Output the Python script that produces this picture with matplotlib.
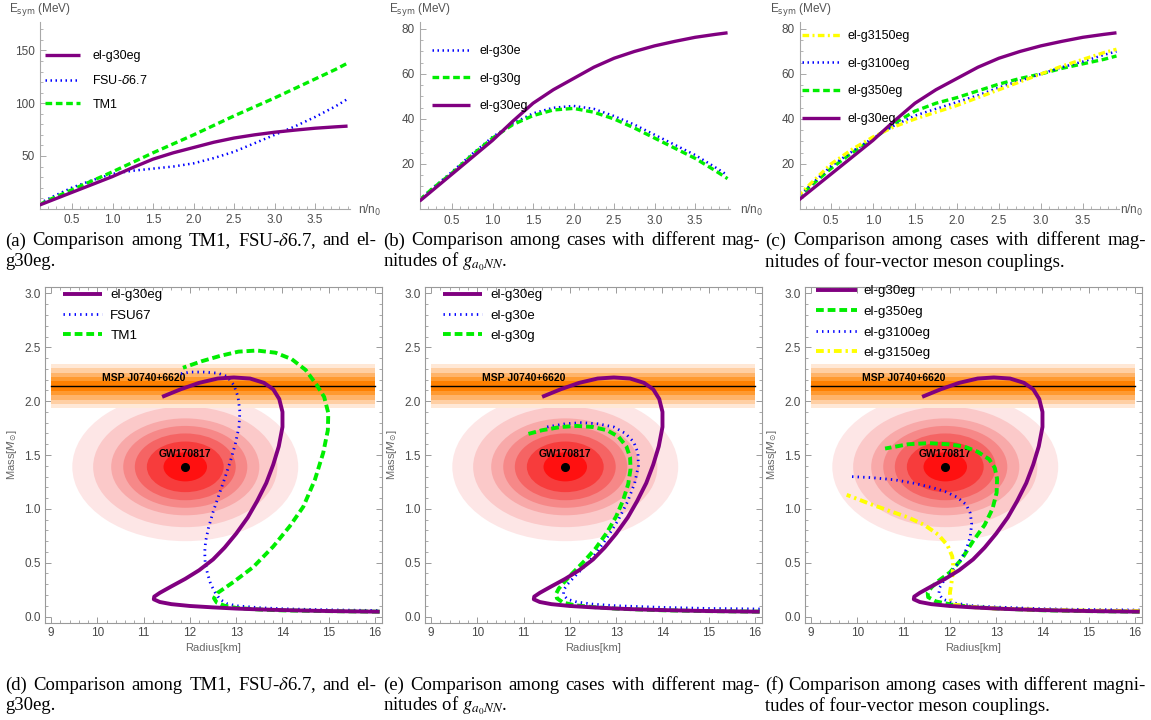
import numpy as np
import matplotlib
matplotlib.use("Agg")
import matplotlib.pyplot as plt
from matplotlib.patches import Ellipse
from matplotlib.ticker import MultipleLocator, FormatStrFormatter

plt.rcParams['font.family'] = ['Liberation Sans', 'DejaVu Sans']

# ---------------- data: symmetry energy (top row) ----------------
n_grid = [0.1, 0.25, 0.5, 0.75, 1.0, 1.25, 1.5, 1.75, 2.0, 2.25, 2.5, 2.75, 3.0, 3.25, 3.5, 3.75, 3.9]

esym_g30eg = [3.5, 8, 15.5, 23, 30.5, 39, 47, 53, 58, 63, 67, 70, 72.5, 74.5, 76.3, 77.6, 78.3]
esym_tm1 = [4, 9.5, 18, 26.5, 35, 44, 53, 61.5, 70, 79, 88, 96.5, 105, 114, 123, 132, 138]
esym_fsu = [5, 11, 20, 27, 33, 36, 38, 40, 43, 48, 54, 62, 70, 78, 87, 97, 104]
esym_g30e = [4, 9, 16.5, 24.5, 32, 38, 42.5, 45, 45.8, 44.5, 41.3, 37.5, 33, 28.5, 24, 18.5, 15]
esym_g30g = [4, 8.8, 16, 24, 31.5, 37.5, 41.5, 44, 44.7, 43, 40, 36, 31.5, 27, 22.5, 17, 13.5]
esym_g350eg = [4.5, 10, 18, 25, 31, 38, 43.5, 47, 49.5, 52.5, 55.5, 58, 60, 62.5, 64.5, 66.5, 68]
esym_g3100eg = [5, 10.5, 19, 25.5, 31.5, 37, 41.5, 44.5, 47.5, 50.5, 54, 57, 60, 63, 65.5, 68.5, 70]
esym_g3150eg = [5.5, 11, 20, 26.5, 32, 36.5, 40, 43, 46, 49.5, 53, 56.5, 60, 63.5, 66.5, 69.5, 71]

ntick_labels = ['0.5', '1.0', '1.5', '2.0', '2.5', '3.0', '3.5']

# ---------------- data: mass-radius (bottom row) ----------------
R_g30eg = [16.10, 15.5, 15.0, 14.5, 14.0, 13.5, 13.0, 12.5, 12.0, 11.6, 11.35, 11.22, 11.23, 11.35, 11.6, 11.9,
           12.2, 12.5, 12.75, 13.0, 13.25, 13.45, 13.65, 13.8, 13.92, 14.0, 14.0, 13.93, 13.8, 13.6, 13.3, 12.95,
           12.6, 12.2, 11.8, 11.4]
M_g30eg = [0.045, 0.048, 0.051, 0.055, 0.06, 0.066, 0.074, 0.085, 0.098, 0.115, 0.135, 0.16, 0.185, 0.22, 0.28, 0.35,
           0.43, 0.53, 0.64, 0.77, 0.92, 1.07, 1.24, 1.41, 1.58, 1.76, 1.9, 2.02, 2.11, 2.17, 2.21, 2.22,
           2.21, 2.17, 2.11, 2.04]

R_fsu67 = [16.05, 15.0, 14.0, 13.5, 13.0, 12.8, 12.65, 12.55, 12.45, 12.38, 12.33, 12.32, 12.34, 12.4, 12.5, 12.62,
           12.75, 12.88, 12.98, 13.06, 13.08, 13.04, 12.95, 12.8, 12.6, 12.3, 12.0, 11.75]
M_fsu67 = [0.056, 0.062, 0.072, 0.082, 0.1, 0.12, 0.16, 0.22, 0.3, 0.4, 0.5, 0.6, 0.7, 0.82, 0.97, 1.12,
           1.28, 1.45, 1.6, 1.76, 1.9, 2.04, 2.15, 2.23, 2.26, 2.27, 2.27, 2.25]

R_tm1 = [16.1, 15.0, 14.0, 13.5, 13.0, 12.75, 12.58, 12.52, 12.6, 12.94, 13.37, 13.8, 14.16, 14.45, 14.7, 14.88,
         14.98, 14.99, 14.9, 14.74, 14.5, 14.2, 13.85, 13.45, 13.05, 12.65, 12.25, 11.85]
M_tm1 = [0.045, 0.05, 0.057, 0.065, 0.08, 0.1, 0.13, 0.17, 0.22, 0.32, 0.46, 0.65, 0.84, 1.02, 1.27, 1.52,
         1.73, 1.89, 2.04, 2.15, 2.29, 2.39, 2.45, 2.47, 2.46, 2.42, 2.37, 2.31]

R_g30g = [16.1, 15.0, 14.0, 13.0, 12.5, 12.1, 11.85, 11.72, 11.7, 11.76, 11.88, 12.05, 12.3, 12.55, 12.8, 13.0,
          13.15, 13.26, 13.31, 13.3, 13.22, 13.05, 12.8, 12.5, 12.15, 11.8, 11.4, 11.05]
M_g30g = [0.045, 0.05, 0.058, 0.073, 0.088, 0.105, 0.13, 0.17, 0.21, 0.26, 0.32, 0.4, 0.51, 0.63, 0.78, 0.93,
          1.08, 1.23, 1.37, 1.48, 1.58, 1.67, 1.73, 1.76, 1.77, 1.76, 1.73, 1.69]

R_g30e = [16.1, 15.0, 14.0, 13.0, 12.5, 12.15, 11.95, 11.86, 11.87, 11.95, 12.1, 12.3, 12.55, 12.8, 13.05, 13.25,
          13.4, 13.48, 13.47, 13.38, 13.2, 12.95, 12.6, 12.25, 11.9, 11.5]
M_g30e = [0.07, 0.075, 0.085, 0.1, 0.115, 0.135, 0.16, 0.2, 0.25, 0.3, 0.37, 0.46, 0.58, 0.73, 0.9, 1.07,
          1.24, 1.4, 1.52, 1.62, 1.7, 1.76, 1.79, 1.8, 1.79, 1.76]

R_g350eg = [16.1, 15.0, 14.0, 13.0, 12.5, 12.05, 11.7, 11.53, 11.52, 11.6, 11.75, 12.0, 12.25, 12.5, 12.75, 12.92,
            13.01, 13.02, 12.97, 12.85, 12.6, 12.3, 11.95, 11.55, 11.1, 10.6]
M_g350eg = [0.045, 0.05, 0.058, 0.075, 0.088, 0.11, 0.14, 0.18, 0.22, 0.27, 0.33, 0.41, 0.53, 0.7, 0.85, 1.0,
            1.15, 1.28, 1.38, 1.46, 1.53, 1.58, 1.6, 1.61, 1.6, 1.56]

R_g3100eg = [16.1, 15.0, 14.0, 13.0, 12.5, 12.1, 11.85, 11.76, 11.78, 11.88, 12.05, 12.22, 12.35, 12.44, 12.47,
             12.44, 12.35, 12.15, 11.9, 11.6, 11.2, 10.8, 10.3, 9.85]
M_g3100eg = [0.06, 0.065, 0.072, 0.088, 0.1, 0.125, 0.16, 0.21, 0.27, 0.34, 0.42, 0.52, 0.62, 0.74, 0.86,
             0.96, 1.04, 1.11, 1.16, 1.2, 1.24, 1.27, 1.29, 1.3]

R_g3150eg = [16.1, 15.0, 14.0, 13.0, 12.4, 12.1, 12.02, 12.0, 12.03, 12.06, 12.07, 12.05, 11.95, 11.75, 11.45,
             11.1, 10.7, 10.25, 9.77]
M_g3150eg = [0.05, 0.055, 0.062, 0.075, 0.09, 0.11, 0.15, 0.22, 0.3, 0.4, 0.48, 0.56, 0.66, 0.76, 0.85,
             0.92, 0.98, 1.05, 1.13]

# observational constraints
gw_center = (11.9, 1.39)
gw_semi_R = [2.44, 1.99, 1.6, 1.34, 1.09, 0.83, 0.47]
gw_semi_M = [0.69, 0.56, 0.45, 0.38, 0.31, 0.235, 0.135]
gw_colors = ['#fde6e6', '#fbc9c9', '#f8a9a9', '#f68888', '#f56464', '#f73c3c', '#ff1010']
msp_mass = 2.14
msp_halfwidths = [0.205, 0.165, 0.125, 0.085, 0.045]
msp_colors = ['#ffe8d6', '#ffcfa3', '#ffb46a', '#ff9a30', '#ff8000']
msp_R = [9.0, 16.0]

captions_top = [
    ("(a) Comparison among TM1, FSU-$\\delta$6.7, and el-", "g30eg."),
    ("(b) Comparison among cases with different mag-", "nitudes of $g_{a_0NN}$."),
    ("(c) Comparison among cases with different mag-", "nitudes of four-vector meson couplings."),
]
captions_bot = [
    ("(d) Comparison among TM1, FSU-$\\delta$6.7, and el-", "g30eg."),
    ("(e) Comparison among cases with different mag-", "nitudes of $g_{a_0NN}$."),
    ("(f) Comparison among cases with different magni-", "tudes of four-vector meson couplings."),
]

# ---------------- styles ----------------
PURPLE = '#800080'
BLUE = '#0000ff'
GREEN = '#00ee00'
YELLOW = '#ffff00'

W, H = 1151, 720
fig = plt.figure(figsize=(W / 100, H / 100), dpi=100)


def rect(l, t, r, b):
    return [l / W, 1 - b / H, (r - l) / W, (b - t) / H]


def fx(x):
    return x / W


def fy(y):
    return 1 - y / H


def sty_top(kind):
    if kind == 'p':
        return dict(color=PURPLE, lw=2.4, solid_capstyle='butt')
    if kind == 'b':
        return dict(color=BLUE, lw=1.8, linestyle=(0, (0.6, 1.4)))
    if kind == 'g':
        return dict(color=GREEN, lw=2.4, linestyle=(0, (2.0, 1.1)))
    if kind == 'y':
        return dict(color=YELLOW, lw=2.4, linestyle=(0, (2.0, 1.0, 0.6, 1.0)))


def sty_bot(kind):
    if kind == 'p':
        return dict(color=PURPLE, lw=2.8, solid_capstyle='butt')
    if kind == 'b':
        return dict(color=BLUE, lw=2.0, linestyle=(0, (0.5, 1.5)))
    if kind == 'g':
        return dict(color=GREEN, lw=2.8, linestyle=(0, (2.0, 1.0)))
    if kind == 'y':
        return dict(color=YELLOW, lw=2.8, linestyle=(0, (2.0, 1.0, 0.6, 1.0)))


TICKC = '#a8a8a8'
LABC = '#4a4a4a'


def style_top(ax, xlim, ylim, ymaj, ymin):
    ax.set_xlim(*xlim)
    ax.set_ylim(*ylim)
    ax.patch.set_alpha(0)
    for s in ['top', 'right']:
        ax.spines[s].set_visible(False)
    for s in ['left', 'bottom']:
        ax.spines[s].set_color(TICKC)
        ax.spines[s].set_linewidth(0.8)
    ax.set_xticks([float(t) for t in ntick_labels])
    ax.set_xticklabels(ntick_labels)
    ax.xaxis.set_minor_locator(MultipleLocator(0.1))
    ax.set_yticks(ymaj)
    ax.yaxis.set_minor_locator(MultipleLocator(ymin))
    ax.tick_params(which='both', direction='in', color=TICKC, labelcolor=LABC, labelsize=8.5)
    ax.tick_params(which='major', length=4, width=0.7, pad=4)
    ax.tick_params(which='minor', length=2, width=0.6)


def style_bot(ax):
    ax.set_xlim(8.87, 16.15)
    ax.set_ylim(-0.06, 3.06)
    for s in ax.spines.values():
        s.set_color('#9a9a9a')
        s.set_linewidth(0.8)
    ax.set_xticks(range(9, 17))
    ax.xaxis.set_minor_locator(MultipleLocator(0.2))
    ax.set_yticks(np.arange(0, 3.01, 0.5))
    ax.yaxis.set_major_formatter(FormatStrFormatter('%.1f'))
    ax.yaxis.set_minor_locator(MultipleLocator(0.1))
    ax.tick_params(which='both', direction='in', top=True, right=True, color='#9a9a9a',
                   labelcolor=LABC, labelsize=8.5)
    ax.tick_params(which='major', length=4, width=0.7, pad=3)
    ax.tick_params(which='minor', length=2, width=0.6)
    ax.set_xlabel('Radius[km]', fontsize=8, color='#666666', labelpad=3)
    ax.set_ylabel('Mass[$M_{\\odot}$]', fontsize=8, color='#666666', labelpad=4)


def add_constraints(ax):
    for a, b, c in zip(gw_semi_R, gw_semi_M, gw_colors):
        ax.add_patch(Ellipse(gw_center, 2 * a, 2 * b, facecolor=c, edgecolor='none', zorder=1))
    for hw, c in zip(msp_halfwidths, msp_colors):
        ax.fill_between(msp_R, msp_mass - hw, msp_mass + hw, color=c, lw=0, zorder=2)
    ax.plot(msp_R, [msp_mass, msp_mass], color='black', lw=1.0, zorder=3)
    ax.text(11.0, msp_mass + 0.025, 'MSP J0740+6620', fontsize=7.5, fontweight='bold',
            ha='center', va='bottom', zorder=3)
    ax.text(gw_center[0], gw_center[1] + 0.07, 'GW170817', fontsize=7.5, fontweight='bold',
            ha='center', va='bottom', zorder=3)
    ax.plot([gw_center[0]], [gw_center[1]], 'o', color='black', ms=5.5, zorder=3)


def leg(ax, handles, labels, left, top, hl, htp, ls, fs=9):
    ax.legend(handles, labels, loc='upper left', bbox_to_anchor=(fx(left), fy(top)),
              bbox_transform=fig.transFigure, frameon=False, borderpad=0, borderaxespad=0,
              handlelength=hl, handletextpad=htp, labelspacing=ls, fontsize=fs)


def esym_label(x):
    fig.text(fx(x), fy(10), 'E$_{\\rm sym}$ (MeV)', fontsize=8.5, color='#555555', ha='left', va='center')


def n_label(x):
    fig.text(fx(x), fy(210), 'n/n$_0$', fontsize=8.5, color='#555555', ha='left', va='center')


# ---------------- (a) ----------------
ax = fig.add_axes(rect(40, 22, 350, 208.7))
style_top(ax, (0.105, 3.93), (0, 177), [50, 100, 150], 10)
la, = ax.plot(n_grid, esym_g30eg, **sty_top('p'), zorder=3)
lb, = ax.plot(n_grid, esym_fsu, **sty_top('b'))
lc, = ax.plot(n_grid, esym_tm1, **sty_top('g'))
leg(ax, [la, lb, lc], ['el-g30eg', 'FSU-$\\delta$6.7', 'TM1'], 45, 50, 2.8, 1.0, 0.95)
esym_label(9)
n_label(358)

# ---------------- (b) ----------------
ax = fig.add_axes(rect(420, 22, 730, 209))
style_top(ax, (0.105, 3.93), (0, 83.1), [20, 40, 60, 80], 5)
la, = ax.plot(n_grid, esym_g30eg, **sty_top('p'), zorder=3)
lb, = ax.plot(n_grid, esym_g30e, **sty_top('b'))
lc, = ax.plot(n_grid, esym_g30g, **sty_top('g'))
leg(ax, [lb, lc, la], ['el-g30e', 'el-g30g', 'el-g30eg'], 432, 45, 3.0, 0.8, 1.25)
esym_label(389)
n_label(740)

# ---------------- (c) ----------------
ax = fig.add_axes(rect(800, 22, 1119, 209))
style_top(ax, (0.131, 3.93), (0, 83.1), [20, 40, 60, 80], 5)
la, = ax.plot(n_grid, esym_g30eg, **sty_top('p'), zorder=3)
lg, = ax.plot(n_grid, esym_g350eg, **sty_top('g'))
lb, = ax.plot(n_grid, esym_g3100eg, **sty_top('b'))
ly, = ax.plot(n_grid, esym_g3150eg, **sty_top('y'))
leg(ax, [ly, lb, lg, la], ['el-g3150eg', 'el-g3100eg', 'el-g350eg', 'el-g30eg'], 802, 30, 3.0, 0.65, 1.25)
esym_label(770)
n_label(1120)

# ---------------- (d) ----------------
ax = fig.add_axes(rect(45, 287, 382, 623))
style_bot(ax)
add_constraints(ax)
la, = ax.plot(R_g30eg, M_g30eg, **sty_bot('p'), zorder=5)
lb, = ax.plot(R_fsu67, M_fsu67, **sty_bot('b'), zorder=4)
lc, = ax.plot(R_tm1, M_tm1, **sty_bot('g'), zorder=4)
leg(ax, [la, lb, lc], ['el-g30eg', 'FSU67', 'TM1'], 63, 289, 2.95, 0.6, 0.6, fs=9.6)

# ---------------- (e) ----------------
ax = fig.add_axes(rect(425, 287, 762, 623))
style_bot(ax)
add_constraints(ax)
la, = ax.plot(R_g30eg, M_g30eg, **sty_bot('p'), zorder=5)
lb, = ax.plot(R_g30e, M_g30e, **sty_bot('b'), zorder=4)
lc, = ax.plot(R_g30g, M_g30g, **sty_bot('g'), zorder=4)
leg(ax, [la, lb, lc], ['el-g30eg', 'el-g30e', 'el-g30g'], 443, 289, 2.95, 0.6, 0.6, fs=9.6)

# ---------------- (f) ----------------
ax = fig.add_axes(rect(805, 287, 1142, 623))
style_bot(ax)
add_constraints(ax)
la, = ax.plot(R_g30eg, M_g30eg, **sty_bot('p'), zorder=5)
lg, = ax.plot(R_g350eg, M_g350eg, **sty_bot('g'), zorder=4)
lb, = ax.plot(R_g3100eg, M_g3100eg, **sty_bot('b'), zorder=4)
ly, = ax.plot(R_g3150eg, M_g3150eg, **sty_bot('y'), zorder=4)
leg(ax, [la, lg, lb, ly], ['el-g30eg', 'el-g350eg', 'el-g3100eg', 'el-g3150eg'], 816, 285, 3.05, 0.5, 0.62,
    fs=9.6)

# ---------------- captions (justified first line) ----------------
renderer = fig.canvas.get_renderer()
CAPFS = 13.5
capfont = dict(fontsize=CAPFS, family='Liberation Serif', math_fontfamily='stix', color='black')


def justified(x0, x1, y, text):
    words = text.split(' ')
    objs = [fig.text(0, fy(y), w, ha='left', va='center', **capfont) for w in words]
    widths = [o.get_window_extent(renderer).width for o in objs]
    gap = (x1 - x0 - sum(widths)) / max(len(words) - 1, 1)
    x = x0
    for o, w in zip(objs, widths):
        o.set_x(fx(x))
        x += w + gap


cap_x = [(5, 376), (383, 760), (765, 1146)]
for (l1, l2), (x0, x1) in zip(captions_top, cap_x):
    justified(x0, x1, 241, l1)
    fig.text(fx(x0), fy(262), l2, ha='left', va='center', **capfont)
for (l1, l2), (x0, x1) in zip(captions_bot, cap_x):
    justified(x0, x1, 685, l1)
    fig.text(fx(x0), fy(706), l2, ha='left', va='center', **capfont)

fig.savefig('out.png', dpi=100)
